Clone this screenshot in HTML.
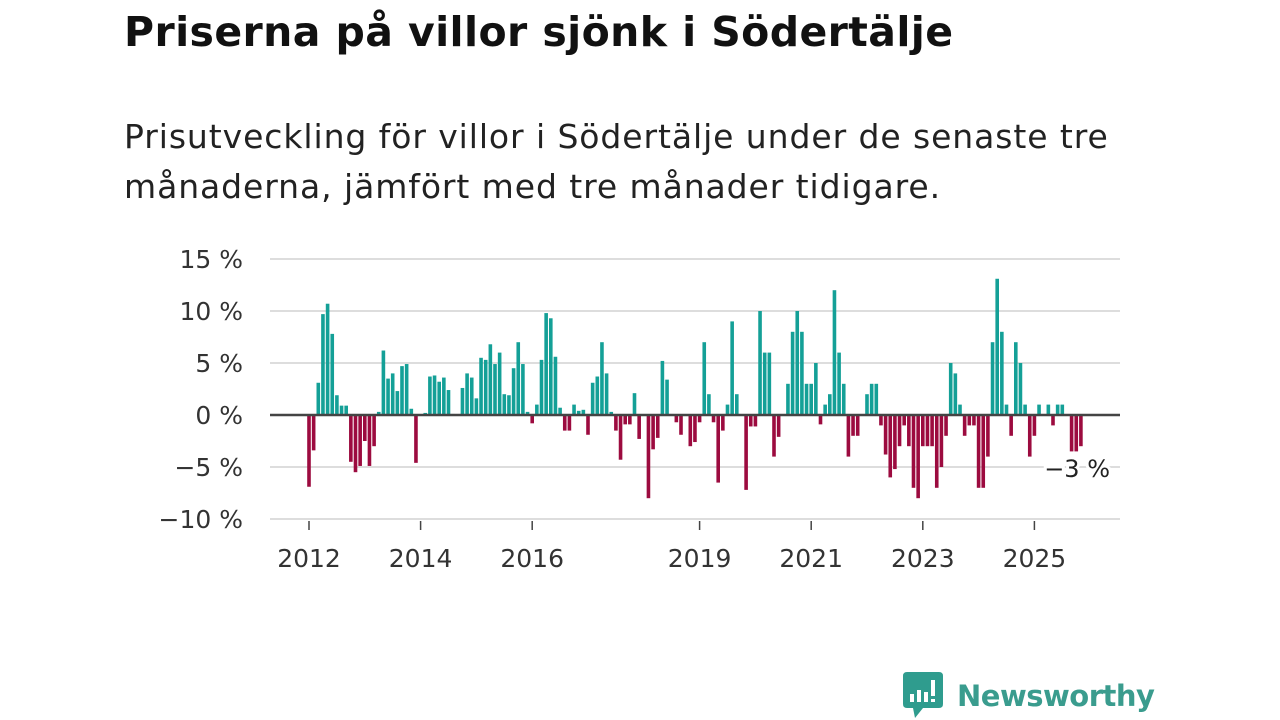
<!DOCTYPE html>
<html><head><meta charset="utf-8"><style>
body{margin:0;width:1280px;height:720px;background:#fff;font-family:"Liberation Sans","DejaVu Sans",sans-serif;overflow:hidden;position:relative;color:#111}
h1{position:absolute;left:124px;top:8px;margin:0;font-size:41px;font-weight:bold;font-family:"DejaVu Sans","Liberation Sans",sans-serif;letter-spacing:0.4px;color:#111}
.sub{position:absolute;left:124px;top:112px;margin:0;line-height:50px;color:#222;font-family:"DejaVu Sans","Liberation Sans",sans-serif;font-size:33px;letter-spacing:0.92px}
svg{position:absolute;left:0;top:0}
</style></head><body>
<h1>Priserna på villor sjönk i Södertälje</h1>
<p class="sub">Prisutveckling för villor i Södertälje under de senaste tre<br>månaderna, jämfört med tre månader tidigare.</p>
<svg id="chart" width="1280" height="720"></svg>
<div style="position:absolute;left:903px;top:672px;display:flex;align-items:center">
<svg width="40" height="48" style="position:static"><path d="M4 0H36Q40 0 40 4V32Q40 36 36 36H20L12 46L10 36H4Q0 36 0 32V4Q0 0 4 0Z" fill="#2f9c8e"/><rect x="7" y="22" width="4" height="8" fill="#fff"/><rect x="14" y="18" width="4" height="12" fill="#fff"/><rect x="21" y="20" width="4" height="10" fill="#fff"/><rect x="28" y="8" width="4" height="16" fill="#fff"/><rect x="28" y="27" width="4" height="3" fill="#fff"/></svg>
<span style="font-size:29px;font-weight:bold;color:#3a9c8e;margin-left:14px;font-family:'DejaVu Sans','Liberation Sans',sans-serif;letter-spacing:-0.5px">Newsworthy</span></div>
<script>
const values=[-6.9,-3.4,3.1,9.7,10.7,7.8,1.9,0.9,0.9,-4.5,-5.5,-4.9,-2.5,-4.9,-3,0.3,6.2,3.5,4.0,2.3,4.7,4.9,0.6,-4.6,0,0.2,3.7,3.8,3.2,3.6,2.4,0.1,0,2.6,4.0,3.6,1.6,5.5,5.3,6.8,4.9,6.0,2.0,1.9,4.5,7.0,4.9,0.3,-0.8,1.0,5.3,9.8,9.3,5.6,
0.7,-1.5,-1.5,1.0,0.4,0.5,-1.9,3.1,3.7,7.0,4.0,0.3,-1.5,-4.3,-0.9,-0.9,2.1,-2.3,0,-8.0,-3.3,-2.2,5.2,3.4,0.1,-0.7,-1.9,0,-3.0,-2.6,-0.7,7.0,2.0,-0.7,-6.5,-1.5,1.0,9.0,2.0,0,-7.2,-1.1,-1.1,10.0,6.0,6.0,-4.0,-2.1,0,3.0,8.0,10.0,8.0,3.0,3.0,5.0,
-0.9,1.0,2.0,12.0,6.0,3.0,-4.0,-2.0,-2.0,0,2.0,3.0,3.0,-1.0,-3.8,-6.0,-5.2,-3.0,-1.0,-3.0,-7.0,-8.0,-3.0,-3.0,-3.0,-7.0,-5.0,-2.0,5.0,4.0,1.0,-2.0,-1.0,-1.0,-7.0,-7.0,-4.0,7.0,13.1,8.0,1.0,-2.0,7.0,5.0,1.0,-4.0,-2.0,1.0,0,1.0,-1.0,1.0,1.0,0,-3.5,-3.5,-3.0];
const startYear=2012;
const yTicks=[15,10,5,0,-5,-10];
const yTickLabels=["15 %","10 %","5 %","0 %","−5 %","−10 %"];
const xTickYears=[2012,2014,2016,2019,2021,2023,2025];
const lastLabel="−3 %";
const NS="http://www.w3.org/2000/svg",svg=document.getElementById('chart');
const y=v=>415-v*10.4;
const x=m=>309+m*4.65;
function el(t,a,txt){const e=document.createElementNS(NS,t);for(const k in a)e.setAttribute(k,a[k]);if(txt!=null)e.textContent=txt;svg.appendChild(e);return e;}
yTicks.forEach((v,i)=>{
 if(v!==0){const g=el('line',{x1:270,x2:1120,y1:y(v),y2:y(v),stroke:'#ddd','stroke-width':2});
 
 }
 const t=el('text',{x:243,y:y(v)+9,'text-anchor':'end','font-size':25,fill:'#333','font-family':'DejaVu Sans, Liberation Sans, sans-serif'},yTickLabels[i]);
 
 
});
values.forEach((v,i)=>{
 const r=el('rect',{x:x(i)-1.8,width:3.6,y:v>=0?y(v):y(0),height:Math.abs(v)*10.4,fill:v>=0?'#14a097':'#9c0b3f'});
 
 
});
const z=el('line',{x1:270,x2:1120,y1:y(0),y2:y(0),stroke:'#444','stroke-width':2.5});


xTickYears.forEach(yr=>{
 const xx=x((yr-startYear)*12);
 const tk=el('line',{x1:xx,x2:xx,y1:521,y2:530,stroke:'#444','stroke-width':1.5});
 
 
 const t=el('text',{x:xx,y:567,'text-anchor':'middle','font-size':25,fill:'#333','font-family':'DejaVu Sans, Liberation Sans, sans-serif'},String(yr));
 
 
});
const lb=el('text',{x:1110,y:y(-5)+10,'text-anchor':'end','font-size':24,fill:'#222','font-family':'DejaVu Sans, Liberation Sans, sans-serif',stroke:'#fff','stroke-width':6,'paint-order':'stroke'},lastLabel);


</script>
</body></html>
